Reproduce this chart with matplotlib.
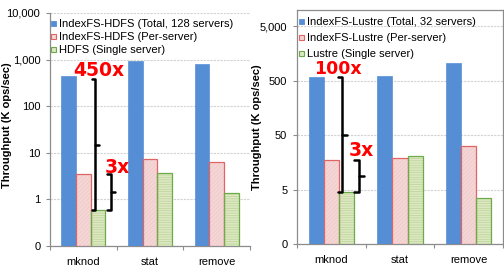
import matplotlib
matplotlib.use("Agg")
import matplotlib.pyplot as plt
from matplotlib.lines import Line2D
from matplotlib.ticker import FixedLocator, FixedFormatter, NullLocator
import numpy as np

plt.rcParams['font.family'] = ['Liberation Sans', 'DejaVu Sans']
plt.rcParams['hatch.linewidth'] = 0.5

categories = ["mknod", "stat", "remove"]

# Left panel: IndexFS on HDFS
hdfs_labels = ["IndexFS-HDFS (Total, 128 servers)", "IndexFS-HDFS (Per-server)", "HDFS (Single server)"]
hdfs_total = [450, 950, 820]
hdfs_per_server = [3.5, 7.3, 6.4]
hdfs_single = [0.58, 3.75, 1.36]
hdfs_yticks = [0.1, 1, 10, 100, 1000, 10000]
hdfs_yticklabels = ["0", "1", "10", "100", "1,000", "10,000"]

# Right panel: IndexFS on Lustre
lustre_labels = ["IndexFS-Lustre (Total, 32 servers)", "IndexFS-Lustre (Per-server)", "Lustre (Single server)"]
lustre_total = [575, 620, 1065]
lustre_per_server = [17.3, 19.0, 32.0]
lustre_single = [4.6, 20.3, 3.5]
lustre_yticks = [0.5, 5, 50, 500, 5000]
lustre_yticklabels = ["0", "5", "50", "500", "5,000"]

BLUE = "#568ED6"
PINK_FILL = "#F4D6D6"
PINK_EDGE = "#E06464"
PINK_HATCH = "#F0C8C8"
GREEN_FILL = "#DCE8C2"
GREEN_EDGE = "#6CAB4A"
GREEN_HATCH = "#BDD396"
GRAY = "#8C8C8C"
GRID = "#D2D2D2"

fig = plt.figure(figsize=(5.04, 2.71), dpi=100)
axL = fig.add_axes([50/504, 1-246/271, 200/504, 233/271])
axR = fig.add_axes([297/504, 1-244/271, 206/504, 234/271])

W = 0.22


def draw_panel(ax, total, per, single, yticks, yticklabels, ylim, labels, frame, leg_anchor, leg_spacing):
    x = np.arange(len(categories))
    bottom = ylim[0]
    ax.set_yscale("log")
    ax.set_ylim(*ylim)
    ax.set_xlim(-0.5, 2.5)
    ax.bar(x - W, np.array(total) - bottom, W, bottom=bottom, color=BLUE, edgecolor=BLUE, lw=0.5, zorder=3)
    ax.bar(x, np.array(per) - bottom, W, bottom=bottom, color=PINK_FILL, edgecolor=PINK_HATCH,
           hatch="////////", lw=0, zorder=3)
    ax.bar(x, np.array(per) - bottom, W, bottom=bottom, fill=False, edgecolor=PINK_EDGE, lw=0.9, zorder=4)
    ax.bar(x + W, np.array(single) - bottom, W, bottom=bottom, color=GREEN_FILL, edgecolor=GREEN_HATCH,
           hatch="-------", lw=0, zorder=3)
    ax.bar(x + W, np.array(single) - bottom, W, bottom=bottom, fill=False, edgecolor=GREEN_EDGE, lw=0.9, zorder=4)

    ax.yaxis.set_major_locator(FixedLocator(yticks))
    ax.yaxis.set_major_formatter(FixedFormatter(yticklabels))
    ax.yaxis.set_minor_locator(NullLocator())
    ax.set_xticks(x)
    ax.set_xticklabels(categories, fontsize=8)
    ax.set_xticks([-0.5, 0.5, 1.5, 2.5], minor=True)
    ax.tick_params(axis="x", which="major", length=0, pad=8)
    ax.tick_params(axis="x", which="minor", length=3, color=GRAY, width=0.8)
    ax.tick_params(axis="y", which="major", length=3, color=GRAY, width=0.8, labelsize=8, pad=4)
    ax.grid(axis="y", which="major", color=GRID, lw=0.8, ls=(0, (2, 1)), zorder=0)
    ax.set_axisbelow(True)
    for name, sp in ax.spines.items():
        sp.set_color(GRAY)
        sp.set_linewidth(0.9)
        if not frame and name in ("top", "right"):
            sp.set_visible(False)
    ax.set_ylabel("Throughput (K ops/sec)", fontsize=8, fontweight="bold")

    handles = [
        Line2D([], [], ls="none", marker="s", ms=3.6, mfc=BLUE, mec=BLUE, mew=0.6),
        Line2D([], [], ls="none", marker="s", ms=3.6, mfc=PINK_FILL, mec=PINK_EDGE, mew=0.8),
        Line2D([], [], ls="none", marker="s", ms=3.6, mfc=GREEN_FILL, mec=GREEN_EDGE, mew=0.8),
    ]
    ax.legend(handles, labels, loc="upper left", bbox_to_anchor=leg_anchor, frameon=False,
              fontsize=8, handlelength=0.4, handletextpad=0.35, borderpad=0, borderaxespad=0,
              labelspacing=leg_spacing)


def brace(ax, xb, ylo, yhi, dx_hook, dx_notch):
    ymid = np.sqrt(ylo * yhi)
    kw = dict(color="black", lw=1.8, solid_capstyle="round", solid_joinstyle="round", zorder=6)
    ax.plot([xb - dx_hook, xb, xb, xb - dx_hook], [yhi, yhi, ylo, ylo], **kw)
    ax.plot([xb, xb + dx_notch], [ymid, ymid], **kw)


draw_panel(axL, hdfs_total, hdfs_per_server, hdfs_single, hdfs_yticks, hdfs_yticklabels,
           (0.1, 10000), hdfs_labels, False, (0.005, 0.975), 0.28)
draw_panel(axR, lustre_total, lustre_per_server, lustre_single, lustre_yticks, lustre_yticklabels,
           (0.5, 10000), lustre_labels, True, (0.01, 0.97), 0.55)

axL.yaxis.set_label_coords(-0.19, 0.52)
axR.yaxis.set_label_coords(-0.17, 0.5)

# annotations (left)
brace(axL, 0.18, hdfs_single[0], hdfs_total[0] / 1.2, 0.045, 0.06)
brace(axL, 0.42, hdfs_single[0], hdfs_per_server[0], 0.06, 0.06)
axL.text(0.23, 580, "450x", color="red", fontsize=13.5, fontweight="bold", family="DejaVu Sans",
         ha="center", va="center", zorder=7)
axL.text(0.515, 4.8, "3x", color="red", fontsize=13.5, fontweight="bold", family="DejaVu Sans",
         ha="center", va="center", zorder=7)

# annotations (right)
brace(axR, 0.16, lustre_single[0], lustre_total[0], 0.07, 0.07)
brace(axR, 0.40, lustre_single[0], lustre_per_server[0], 0.07, 0.08)
axR.text(0.10, 833, "100x", color="red", fontsize=12.5, fontweight="bold", family="DejaVu Sans",
         ha="center", va="center", zorder=7)
axR.text(0.435, 26.5, "3x", color="red", fontsize=13.5, fontweight="bold", family="DejaVu Sans",
         ha="center", va="center", zorder=7)

fig.savefig("out.png", dpi=100)
